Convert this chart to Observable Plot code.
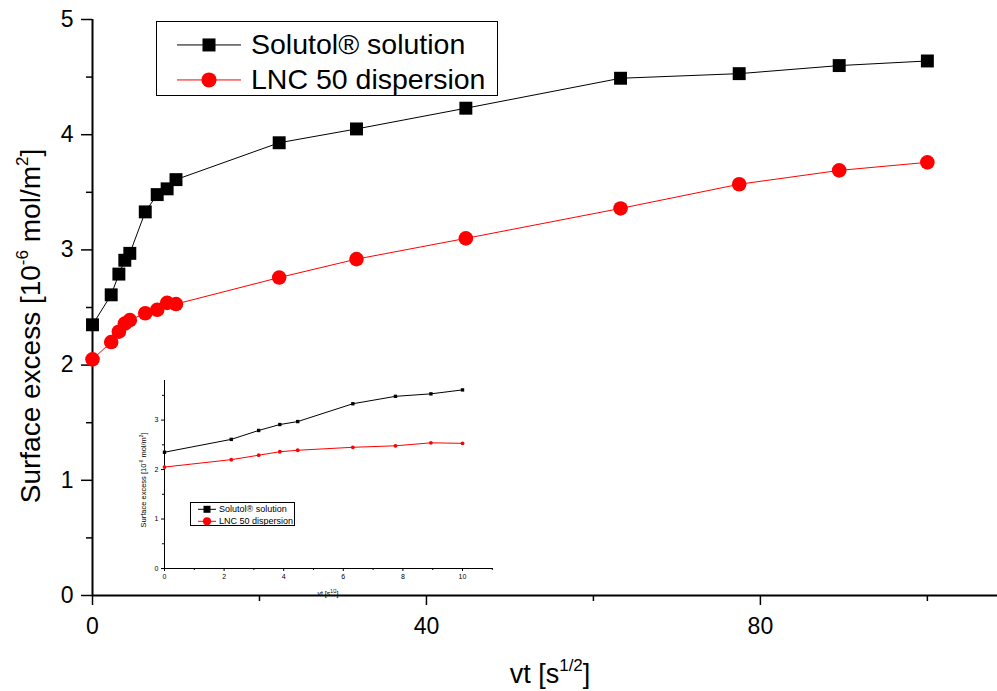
<!DOCTYPE html>
<html><head><meta charset="utf-8">
<script src="https://cdn.jsdelivr.net/npm/d3@7"></script>
<script src="https://cdn.jsdelivr.net/npm/@observablehq/plot@0.6"></script>
<style>
body{margin:0;background:#fff;font-family:Arial,"Liberation Sans",sans-serif;}
#wrap{position:relative;width:997px;height:691px;overflow:hidden;}
#wrap svg{position:absolute;}
.legend{position:absolute;border:1.5px solid #000;background:#fff;box-sizing:border-box;}
.legend .row{position:absolute;left:0;display:flex;align-items:center;white-space:nowrap;color:#000;}
.legend svg{position:static !important;}
</style></head><body><div id="wrap"></div>
<script>
// ---- data ----
const seriesNames = ["Solutol® solution", "LNC 50 dispersion"];
const vt = [0, 2.24, 3.16, 3.87, 4.47, 6.32, 7.75, 8.94, 10, 22.36, 31.62, 44.72, 63.25, 77.46, 89.44, 100];
const solutol = [2.35, 2.61, 2.79, 2.91, 2.97, 3.33, 3.48, 3.53, 3.61, 3.93, 4.05, 4.23, 4.49, 4.53, 4.60, 4.64];
const lnc = [2.05, 2.20, 2.29, 2.36, 2.39, 2.45, 2.48, 2.54, 2.53, 2.76, 2.92, 3.10, 3.36, 3.57, 3.69, 3.76];
const insetCount = 9; // inset shows the first points (vt <= 10)
const mainXTicks = [0, 40, 80];
const mainXMinor = [20, 60, 100];
const mainYTicks = [0, 1, 2, 3, 4, 5];
const mainYMinor = [0.5, 1.5, 2.5, 3.5, 4.5];
const insetXTicks = [0, 2, 4, 6, 8, 10];
const insetXMinor = [1, 3, 5, 7, 9, 11];
const insetYTicks = [0, 1, 2, 3];
const insetYMinor = [0.5, 1.5, 2.5, 3.5];
const colors = ["#000000", "#ff0000"];
const symbols = ["square", "circle"];

const rows = [];
vt.forEach((x, i) => {
  rows.push({x, y: solutol[i], s: seriesNames[0], i});
  rows.push({x, y: lnc[i], s: seriesNames[1], i});
});
const insetRows = rows.filter(d => d.i < insetCount);

const wrap = document.getElementById("wrap");
const font = "Arial, 'Liberation Sans', sans-serif";
const fmt = d => String(d);
const NB = "\u00a0";

// ---- inset chart ----
const inset = Plot.plot({
  width: 370, height: 230,
  marginLeft: 34, marginRight: 7, marginTop: 10, marginBottom: 32,
  x: {domain: [0, 11.04]},
  y: {domain: [0, 3.8]},
  color: {domain: seriesNames, range: colors},
  symbol: {domain: seriesNames, range: symbols},
  style: {fontFamily: font, color: "#000", background: "transparent", overflow: "visible"},
  marks: [
    Plot.axisY(insetYTicks, {tickSize: 3, tickPadding: 3, fontSize: 7, tickFormat: fmt, label: null}),
    Plot.axisY(insetYMinor, {tickSize: 2, fill: "none", label: null}),
    Plot.axisX(insetXTicks, {tickSize: 3, tickPadding: 3, fontSize: 7, tickFormat: fmt, label: null}),
    Plot.axisX(insetXMinor, {tickSize: 2, fill: "none", label: null}),
    Plot.ruleX([0], {strokeWidth: 1}),
    Plot.ruleY([0], {strokeWidth: 1}),
    Plot.line(insetRows, {x: "x", y: "y", z: "s", stroke: "s", strokeWidth: 1}),
    Plot.dot(insetRows, {x: "x", y: "y", fill: "s", symbol: "s", r: 1.9, stroke: "none"})
  ]
});
inset.style.left = "130px"; inset.style.top = "370px";
wrap.appendChild(inset);
const is = d3.select(inset);
const iyl = is.append("text")
  .attr("transform", "translate(16,110) rotate(-90)")
  .attr("text-anchor", "middle").attr("font-size", 7.5).attr("font-family", font).attr("fill", "#000");
iyl.append("tspan").text("Surface excess [10");
iyl.append("tspan").attr("font-size", 4.5).attr("dy", -3).text("-6");
iyl.append("tspan").attr("dy", 3).text(NB + "mol/m");
iyl.append("tspan").attr("font-size", 4.5).attr("dy", -3).text("2");
iyl.append("tspan").attr("dy", 3).text("]");
const ixl = is.append("text")
  .attr("x", 198).attr("y", 226)
  .attr("text-anchor", "middle").attr("font-size", 7).attr("font-family", font).attr("fill", "#000");
ixl.append("tspan").text("vt [s");
ixl.append("tspan").attr("font-size", 4.5).attr("dy", -3).text("1/2");
ixl.append("tspan").attr("dy", 3).text("]");

// ---- main chart ----
const main = Plot.plot({
  width: 997, height: 691,
  marginLeft: 92, marginRight: 0, marginTop: 19, marginBottom: 96,
  x: {domain: [0, 108.4]},
  y: {domain: [0, 5]},
  color: {domain: seriesNames, range: colors},
  symbol: {domain: seriesNames, range: symbols},
  style: {fontFamily: font, color: "#000", background: "transparent", overflow: "visible"},
  marks: [
    Plot.axisY(mainYTicks, {tickSize: 11, tickPadding: 8, fontSize: 23, strokeWidth: 1.5, tickFormat: fmt, label: null}),
    Plot.axisY(mainYMinor, {tickSize: 6, strokeWidth: 1.5, fill: "none", label: null}),
    Plot.axisX(mainXTicks, {tickSize: 10, tickPadding: 12, fontSize: 23, strokeWidth: 1.5, tickFormat: fmt, label: null}),
    Plot.axisX(mainXMinor, {tickSize: 6, strokeWidth: 1.5, fill: "none", label: null}),
    Plot.ruleX([0], {strokeWidth: 2}),
    Plot.ruleY([0], {strokeWidth: 2}),
    Plot.line(rows, {x: "x", y: "y", z: "s", stroke: "s", strokeWidth: 1}),
    Plot.dot(rows, {x: "x", y: "y", fill: "s", symbol: "s", r: 7.3, stroke: "none"})
  ]
});
main.style.left = "0px"; main.style.top = "0px";
wrap.appendChild(main);

const ms = d3.select(main);
const yl = ms.append("text")
  .attr("transform", "translate(40,326) rotate(-90)")
  .attr("text-anchor", "middle").attr("font-size", 28).attr("font-family", font).attr("fill", "#000");
yl.append("tspan").text("Surface excess [10");
yl.append("tspan").attr("font-size", 17).attr("dy", -12).text("-6");
yl.append("tspan").attr("dy", 12).text(NB + "mol/m");
yl.append("tspan").attr("font-size", 17).attr("dy", -12).text("2");
yl.append("tspan").attr("dy", 12).text("]");
const xl = ms.append("text")
  .attr("x", 550).attr("y", 683)
  .attr("text-anchor", "middle").attr("font-size", 27).attr("font-family", font).attr("fill", "#000");
xl.append("tspan").text("vt [s");
xl.append("tspan").attr("font-size", 17).attr("dy", -12).text("1/2");
xl.append("tspan").attr("dy", 12).text("]");

// ---- legends ----
function legend(left, top, w, h, rowYs, lineStart, lineLen, mSize, fontSize, textLeft) {
  const div = document.createElement("div");
  div.className = "legend";
  Object.assign(div.style, {left: left + "px", top: top + "px", width: w + "px", height: h + "px"});
  seriesNames.forEach((name, k) => {
    const row = document.createElement("div");
    row.className = "row";
    row.style.top = (rowYs[k] - top - fontSize * 0.7) + "px";
    row.style.height = (fontSize * 1.4) + "px";
    row.style.fontSize = fontSize + "px";
    const svg = d3.create("svg").attr("width", textLeft).attr("height", fontSize * 1.4);
    const cy = fontSize * 0.7;
    svg.append("line").attr("x1", lineStart).attr("x2", lineStart + lineLen).attr("y1", cy).attr("y2", cy)
      .attr("stroke", colors[k]).attr("stroke-width", 1);
    const cx = lineStart + lineLen / 2;
    if (symbols[k] === "square") {
      svg.append("rect").attr("x", cx - mSize / 2).attr("y", cy - mSize / 2).attr("width", mSize).attr("height", mSize).attr("fill", colors[k]);
    } else {
      svg.append("circle").attr("cx", cx).attr("cy", cy).attr("r", mSize * 0.58).attr("fill", colors[k]);
    }
    row.appendChild(svg.node());
    const span = document.createElement("span");
    span.textContent = name;
    row.appendChild(span);
    div.appendChild(row);
  });
  wrap.appendChild(div);
}
legend(156, 21, 342, 75, [44, 79], 20, 64, 13, 28.5, 94);
legend(190, 502, 105, 24, [508, 520], 7, 18, 7, 9, 28);
</script></body></html>
